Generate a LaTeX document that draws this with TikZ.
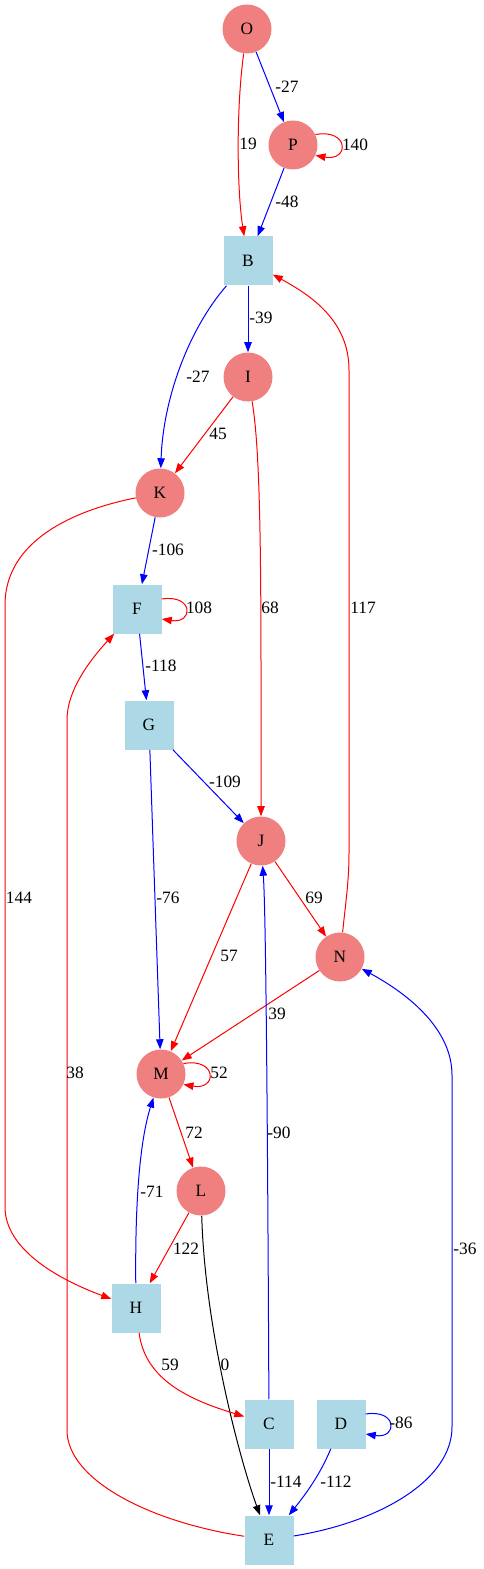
\documentclass[tikz,border=0pt]{standalone}
\usepackage{fontspec}
\setmainfont{Liberation Serif}
\usepackage{tikz}
\usetikzlibrary{arrows.meta}
\definecolor{nodeCoral}{HTML}{F08080}
\definecolor{nodeSky}{HTML}{ADD8E6}
\definecolor{edgeRed}{HTML}{FF0000}
\definecolor{edgeBlue}{HTML}{0000FF}

\begin{document}
\begin{tikzpicture}[
  x=0.75pt, y=-0.75pt,
  >={Triangle[length=7.5pt,width=5.6pt]},
  roundnode/.style={circle, fill=nodeCoral, minimum size=36.75pt, inner sep=0pt, font=\fontsize{13pt}{15pt}\selectfont},
  squarenode/.style={rectangle, fill=nodeSky, minimum width=36.75pt, minimum height=36.75pt, inner sep=0pt, font=\fontsize{13pt}{15pt}\selectfont},
  redE/.style={->, draw=edgeRed, line width=0.75pt},
  blueE/.style={->, draw=edgeBlue, line width=0.75pt},
  blackE/.style={->, draw=black, line width=0.75pt},
  wlabel/.style={inner sep=0pt, font=\fontsize{13pt}{15pt}\selectfont},
]
\useasboundingbox (0,0) rectangle (483,1569);

% round nodes
\foreach \n/\x/\y in {O/247/29, P/293/145, I/248/377, K/160/493, J/261/841, N/340/957, M/161/1074, L/201/1191}
  \node[roundnode] (\n) at (\x,\y) {\n};
% square nodes
\foreach \n/\x/\y in {B/248/261, F/137/609, G/149/725, H/136/1308, C/269/1424, D/341/1424, E/269/1540}
  \node[squarenode] (\n) at (\x,\y) {\n};

% edges
\draw[blueE] (O) -- (P);
\draw[redE] (O) .. controls (236,110) and (237,190) .. (B);
\draw[redE] (P.25) .. controls +(34,-6) and +(34,6) .. (P.-25);
\draw[blueE] (P) -- (B);
\draw[blueE] (B) -- (I);
\draw[blueE] (B) .. controls (188,330) and (163,400) .. (K);
\draw[redE] (I) -- (K);
\draw[redE] (I) .. controls (262,460) and (261,600) .. (J);
\draw[redE] (N) .. controls (346,900) and (349,880) .. (349,853) -- (349,370) .. controls (349,320) and (310,295) .. (B);
\draw[blueE] (K) -- (F);
\draw[redE] (K) .. controls (75,510) and (5,540) .. (5,605) -- (5,1207) .. controls (5,1250) and (60,1280) .. (H);
\draw[redE] (F.22) .. controls +(32,-5) and +(32,5) .. (F.-22);
\draw[blueE] (F) -- (G);
\draw[blueE] (G) -- (J);
\draw[blueE] (G) -- (M);
\draw[redE] (J) -- (N);
\draw[redE] (J) -- (M);
\draw[redE] (N) -- (M);
\draw[redE] (M.25) .. controls +(34,-6) and +(34,6) .. (M.-25);
\draw[redE] (M) -- (L);
\draw[blueE] (H) .. controls (135,1200) and (140,1140) .. (M);
\draw[redE] (L) -- (H);
\draw[blackE] (L) .. controls (205,1330) and (240,1460) .. (E);
\draw[redE] (H) .. controls (145,1380) and (190,1400) .. (C);
\draw[blueE] (C) .. controls (267,1000) and (265,900) .. (J);
\draw[blueE] (C) -- (E);
\draw[blueE] (D.22) .. controls +(32,-5) and +(32,5) .. (D.-22);
\draw[blueE] (D) .. controls (320,1475) and (305,1495) .. (E);
\draw[blueE] (E) .. controls (380,1522) and (452,1480) .. (452,1427) -- (452,1075) .. controls (452,1030) and (410,995) .. (N);
\draw[redE] (E) .. controls (150,1522) and (67,1480) .. (67,1430) -- (67,720) .. controls (67,690) and (90,660) .. (F);

% edge weights
\node[wlabel] (lOP) at (287,87) {-27};
\node[wlabel] (lOB) at (248,144) {19};
\node[wlabel] (lPP) at (355,145) {140};
\node[wlabel] (lPB) at (287,202) {-48};
\node[wlabel] (lBI) at (261,318) {-39};
\node[wlabel] (lBK) at (198,377) {-27};
\node[wlabel] (lIK) at (218,434) {45};
\node[wlabel] (lKF) at (168,550) {-106};
\node[wlabel] (lFF) at (199,608) {108};
\node[wlabel] (lIJ) at (270,608) {68};
\node[wlabel] (lNB) at (363,608) {117};
\node[wlabel] (lFG) at (161,666) {-118};
\node[wlabel] (lGJ) at (225,782) {-109};
\node[wlabel] (lKH) at (19,898) {144};
\node[wlabel] (lGM) at (168,898) {-76};
\node[wlabel] (lJN) at (314,898) {69};
\node[wlabel] (lJM) at (229,956) {57};
\node[wlabel] (lNM) at (277,1014) {39};
\node[wlabel] (lMM) at (219,1073) {52};
\node[wlabel] (lEF) at (75,1073) {38};
\node[wlabel] (lML) at (194,1133) {72};
\node[wlabel] (lCJ) at (279,1133) {-90};
\node[wlabel] (lHM) at (152,1192) {-71};
\node[wlabel] (lLH) at (186,1249) {122};
\node[wlabel] (lEN) at (465,1249) {-36};
\node[wlabel] (lHC) at (170,1365) {59};
\node[wlabel] (lLE) at (225,1365) {0};
\node[wlabel] (lDD) at (401,1423) {-86};
\node[wlabel] (lCE) at (286,1482) {-114};
\node[wlabel] (lDE) at (336,1482) {-112};

\end{tikzpicture}
\end{document}
